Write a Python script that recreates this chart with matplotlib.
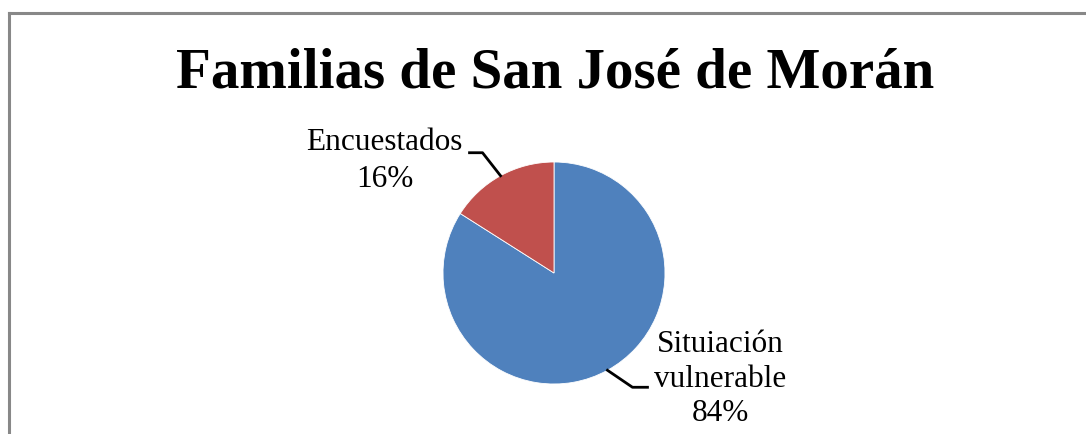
import numpy as np
import matplotlib
matplotlib.use("Agg")
import matplotlib.pyplot as plt
from matplotlib.lines import Line2D

plt.rcParams['font.family'] = ['Liberation Serif', 'DejaVu Serif']

title = "Familias de San José de Morán"
labels = ["Situiación\nvulnerable", "Encuestados"]
values = [84, 16]
colors = ["#4F81BD", "#C0504D"]

W, H = 1086, 434
fig = plt.figure(figsize=(W / 100, H / 100), dpi=100)
ax = fig.add_axes([0, 0, 1, 1])

# chart frame (bottom and right are cut off in the original)
frame = dict(color="#888888", lw=2.2, transform=fig.transFigure)
fig.add_artist(Line2D([8.5 / W, 1], [1 - 12.5 / H, 1 - 12.5 / H], **frame))
fig.add_artist(Line2D([8.5 / W, 8.5 / W], [0, 1 - 12.5 / H], **frame))

fig.text(555 / W, 1 - 74 / H, title, ha="center", va="center",
         fontsize=41, fontweight="bold", color="black")

cx, cy, r = 554, H - 273, 111
wedges, _ = ax.pie(values, colors=colors, startangle=90, counterclock=False,
                   center=(cx, cy), radius=r, frame=True,
                   wedgeprops=dict(edgecolor="white", linewidth=0.6))
ax.set_xlim(0, W)
ax.set_ylim(0, H)
ax.axis("off")

for w, lab, val in zip(wedges, labels, values):
    mid = np.deg2rad((w.theta1 + w.theta2) / 2)
    ex, ey = cx + r * np.cos(mid), cy + r * np.sin(mid)
    text = f"{lab}\n{val}%"
    if np.cos(mid) < 0:
        # label to upper left
        elbow = (ex - 18, ey + 23)
        end = (elbow[0] - 13, elbow[1])
        ax.plot([ex, elbow[0], end[0]], [ey, elbow[1], end[1]], color="black", lw=2)
        ax.text(end[0] - 85, end[1] - 8, text, ha="center", va="center",
                fontsize=22.5, linespacing=1.35)
    else:
        elbow = (ex + 25, ey - 17)
        end = (elbow[0] + 15, elbow[1])
        ax.plot([ex, elbow[0], end[0]], [ey, elbow[1], end[1]], color="black", lw=2)
        ax.text(end[0] + 73, end[1] + 8, text, ha="center", va="center",
                fontsize=22.5, linespacing=1.25)

fig.savefig("out.png", dpi=100, facecolor="white")
